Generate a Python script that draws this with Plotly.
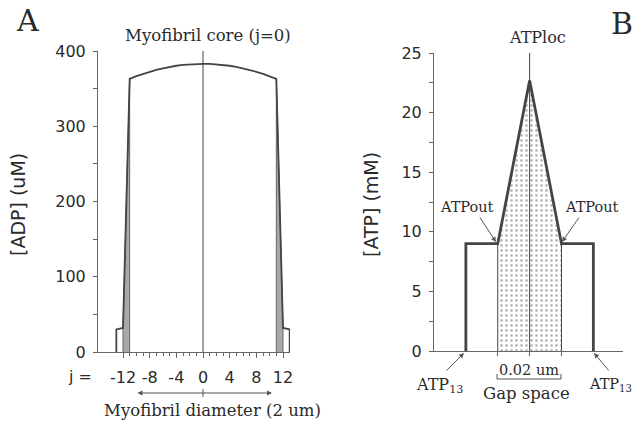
import plotly.graph_objects as go

# ---------------- data ----------------
# Panel A: ADP profile across myofibril (j index)
j_core = [-11, -10, -9, -8, -7, -6, -5, -4, -3, -2, -1, 0, 1, 2, 3, 4, 5, 6, 7, 8, 9, 10, 11]
adp_core = [363, 366.5, 369.6, 372.4, 374.9, 377, 378.9, 380.4, 381.5, 382.3, 382.8, 383,
            382.8, 382.3, 381.5, 380.4, 378.9, 377, 374.9, 372.4, 369.6, 366.5, 363]
j_left = [-13, -12]
adp_left = [30, 32]
j_right = [12, 13]
adp_right = [32, 30]
a_xticks = [-12, -8, -4, 0, 4, 8, 12]
a_yticks = [0, 100, 200, 300, 400]

# Panel B: ATP profile across gap space
b_pos = [-2, -1, 0, 1, 2]
b_atp = [9, 9, 22.7, 9, 9]
b_yticks = [0, 5, 10, 15, 20, 25]

W, H = 636, 421
def px(x):
    return x / W
def py(y):
    return 1 - y / H

LINE = "#444444"
AX = "#666666"
TXT = "#2a2a2a"
SANS = "DejaVu Sans"
SERIF = "DejaVu Serif"

fig = go.Figure()

# ---------- Panel A ----------
fig.add_trace(go.Scatter(
    x=[j_left[1], j_left[1], j_core[0], j_core[0]],
    y=[0, adp_left[1], adp_core[0], 0],
    fill="toself", fillcolor="#a8a8a8", mode="lines",
    line=dict(color="#666666", width=1), xaxis="x", yaxis="y", hoverinfo="skip"))
fig.add_trace(go.Scatter(
    x=[j_core[-1], j_core[-1], j_right[0], j_right[0]],
    y=[0, adp_core[-1], adp_right[0], 0],
    fill="toself", fillcolor="#a8a8a8", mode="lines",
    line=dict(color="#666666", width=1), xaxis="x", yaxis="y", hoverinfo="skip"))
fig.add_trace(go.Scatter(
    x=[j_left[0]] + j_left + j_core + j_right + [j_right[-1]],
    y=[0] + adp_left + adp_core + adp_right + [0],
    mode="lines", line=dict(color=LINE, width=1.8), xaxis="x", yaxis="y", hoverinfo="skip"))
fig.add_trace(go.Scatter(
    x=[0, 0], y=[0, a_yticks[-1]], mode="lines",
    line=dict(color=LINE, width=1), xaxis="x", yaxis="y", hoverinfo="skip"))

# ---------- Panel B ----------
gap_x = [b_pos[1]] + b_pos[1:4] + [b_pos[3]]
gap_y = [0] + b_atp[1:4] + [0]
fig.add_trace(go.Scatter(
    x=gap_x, y=gap_y,
    fill="toself", fillcolor="white", mode="lines",
    fillpattern=dict(shape=".", size=5, solidity=0.25, fgcolor="#777777", bgcolor="white"),
    line=dict(color=LINE, width=1), xaxis="x2", yaxis="y2", hoverinfo="skip"))
fig.add_trace(go.Scatter(
    x=[b_pos[0]] + b_pos + [b_pos[-1]],
    y=[0] + b_atp + [0],
    mode="lines", line=dict(color=LINE, width=2.8), xaxis="x2", yaxis="y2", hoverinfo="skip"))
fig.add_trace(go.Scatter(
    x=[0, 0], y=[0, b_yticks[-1]], mode="lines",
    line=dict(color=LINE, width=1), xaxis="x2", yaxis="y2", hoverinfo="skip"))

tickfont = dict(family=SANS, size=16, color=TXT)

fig.update_layout(
    width=W, height=H, margin=dict(l=0, r=0, t=0, b=0, autoexpand=False),
    paper_bgcolor="white", plot_bgcolor="white", showlegend=False,
    xaxis=dict(domain=[px(98), px(290)], range=[-15.75, 13.05], showline=True, linecolor=AX,
               linewidth=1, showgrid=False, zeroline=False, tickvals=a_xticks,
               ticktext=[str(v) for v in a_xticks], ticks="outside", ticklen=5, tickcolor=AX,
               tickfont=tickfont, anchor="y", ticklabelstandoff=6,
               minor=dict(tickvals=[v for v in range(-12, 13) if v not in a_xticks],
                          ticks="outside", ticklen=3, tickcolor=AX)),
    yaxis=dict(domain=[py(352), py(51)], range=[0, 400], showline=True, linecolor=AX,
               linewidth=1, showgrid=False, zeroline=False, tickvals=a_yticks,
               ticks="outside", ticklen=4, tickcolor=AX, tickfont=tickfont, anchor="x",
               ticklabelstandoff=4,
               minor=dict(dtick=50, ticks="outside", ticklen=4, tickcolor=AX)),
    xaxis2=dict(domain=[px(434), px(623)], range=[-3, 2.93], showline=True, linecolor=AX,
                linewidth=1, showgrid=False, zeroline=False, tickvals=b_pos[1:4],
                showticklabels=False, ticks="outside", ticklen=4, tickcolor=AX, anchor="y2"),
    yaxis2=dict(domain=[py(351), py(53)], range=[0, 25], showline=True, linecolor=AX,
                linewidth=1, showgrid=False, zeroline=False, tickvals=b_yticks,
                ticks="outside", ticklen=4, tickcolor=AX, tickfont=tickfont, anchor="x2",
                ticklabelstandoff=4,
                minor=dict(dtick=2.5, ticks="outside", ticklen=4, tickcolor=AX)),
)

def note(text, x, y, size=15, family=SERIF, angle=0, xanchor="center"):
    fig.add_annotation(text=text, x=px(x), y=py(y), xref="paper", yref="paper",
                       showarrow=False, xanchor=xanchor, yanchor="middle", textangle=angle,
                       font=dict(family=family, size=size, color=TXT))

def arrow(x0, y0, x1, y1, side="end"):
    fig.add_annotation(text="", x=px(x1), y=py(y1), ax=x0 - x1, ay=y0 - y1,
                       xref="paper", yref="paper", axref="pixel", ayref="pixel",
                       showarrow=True, arrowhead=2, arrowsize=1, arrowwidth=1,
                       arrowcolor="#555555", arrowside=side, standoff=0, startstandoff=0)

note("A", 27, 20, size=30)
note("B", 622, 24, size=30)

note("Myofibril core (j=0)", 208, 35, size=16.5)
note("[ADP] (uM)", 18, 205, size=19, family=SANS, angle=-90)
note("j =", 80, 376, size=16, family=SANS)
arrow(136, 393, 272, 393, side="end+start")
fig.add_shape(type="line", xref="paper", yref="paper", x0=px(203), x1=px(203),
              y0=py(389), y1=py(397), line=dict(color="#555555", width=1))
note("Myofibril diameter (2 um)", 212, 410, size=16.5)

note("[ATP] (mM)", 371, 205, size=19, family=SANS, angle=-90)
note("ATPloc", 537, 38, size=16)
note("ATPout", 467, 207, size=14.5)
note("ATPout", 592, 207, size=14.5)
arrow(479, 216, 496, 242)
arrow(580, 216, 562, 242)
note("ATP<sub>13</sub>", 439, 385, size=16)
note("ATP<sub>13</sub>", 587, 385, size=14.5, xanchor="left")
arrow(445, 372, 464, 353)
arrow(610, 372, 594, 353)
note("0.02 um", 529, 370, size=14.5)
fig.add_shape(type="path", xref="paper", yref="paper",
              path=f"M {px(497)} {py(374)} L {px(497)} {py(379)} L {px(561)} {py(379)} L {px(561)} {py(374)}",
              line=dict(color="#555555", width=1))
note("Gap space", 526, 393, size=16.5)

fig.write_html("out.html")
